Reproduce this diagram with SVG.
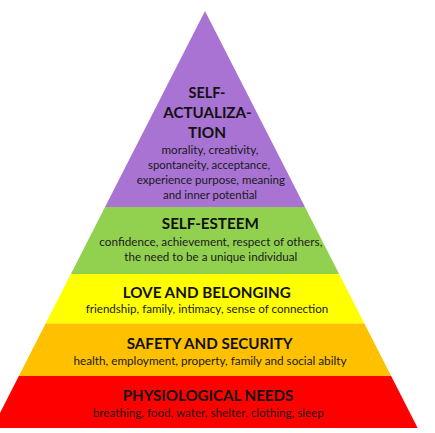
<svg xmlns="http://www.w3.org/2000/svg" width="435" height="433" viewBox="0 0 435 433">
  <style>
    .h { font-family: Lato, "Open Sans", "Liberation Sans", sans-serif; font-weight: 700; font-size: 15.5px; fill: #111; text-anchor: middle; }
    .s { font-family: Lato, "Open Sans", "Liberation Sans", sans-serif; font-weight: 400; font-size: 11.5px; fill: #1a1a1a; text-anchor: middle; }
  </style>
  <rect width="435" height="433" fill="#ffffff"/>
  <g id="connectors"></g>
  <g id="self-actualization">
    <polygon points="205,11 304.96,207 105.04,207" fill="#A873D3"/>
    <text class="h" x="207" y="97.5" textLength="37" lengthAdjust="spacingAndGlyphs">SELF-</text>
    <text class="h" x="207.5" y="117.5" textLength="88.3" lengthAdjust="spacingAndGlyphs">ACTUALIZA-</text>
    <text class="h" x="207" y="137.5" textLength="38" lengthAdjust="spacingAndGlyphs">TION</text>
    <text class="s" x="210" y="154" textLength="97" lengthAdjust="spacingAndGlyphs">morality, creativity,</text>
    <text class="s" x="209" y="169" textLength="122" lengthAdjust="spacingAndGlyphs">spontaneity, acceptance,</text>
    <text class="s" x="210.8" y="184" textLength="148.3" lengthAdjust="spacingAndGlyphs">experience purpose, meaning</text>
    <text class="s" x="210" y="199" textLength="94" lengthAdjust="spacingAndGlyphs">and inner potential</text>
  </g>
  <g id="self-esteem">
    <polygon points="105.04,207 304.96,207 339.13,274 70.87,274" fill="#92D050"/>
    <text class="h" x="210.3" y="229" textLength="97" lengthAdjust="spacingAndGlyphs">SELF-ESTEEM</text>
    <text class="s" x="210.8" y="245.7" textLength="223" lengthAdjust="spacingAndGlyphs">confidence, achievement, respect of others,</text>
    <text class="s" x="210.8" y="261" textLength="173" lengthAdjust="spacingAndGlyphs">the need to be a unique individual</text>
  </g>
  <g id="love-belonging">
    <polygon points="70.87,274 339.13,274 364.38,323.5 45.63,323.5" fill="#FFFF00"/>
    <text class="h" x="206.7" y="297.7" textLength="168" lengthAdjust="spacingAndGlyphs">LOVE AND BELONGING</text>
    <text class="s" x="207" y="313.3" textLength="242.6" lengthAdjust="spacingAndGlyphs">friendship, family, intimacy, sense of connection</text>
  </g>
  <g id="safety-security">
    <polygon points="45.63,323.5 364.38,323.5 391.15,376 18.85,376" fill="#FFC000"/>
    <text class="h" x="209.7" y="349.3" textLength="166" lengthAdjust="spacingAndGlyphs">SAFETY AND SECURITY</text>
    <text class="s" x="210" y="365" textLength="273" lengthAdjust="spacingAndGlyphs">health, employment, property, family and social abilty</text>
  </g>
  <g id="physiological">
    <polygon points="18.85,376 391.15,376 417.67,428 -7.67,428" fill="#FF0000"/>
    <text class="h" x="208" y="400.7" textLength="170.6" lengthAdjust="spacingAndGlyphs">PHYSIOLOGICAL NEEDS</text>
    <text class="s" x="208.3" y="416.7" textLength="231" lengthAdjust="spacingAndGlyphs">breathing, food, water, shelter, clothing, sleep</text>
  </g>
</svg>
